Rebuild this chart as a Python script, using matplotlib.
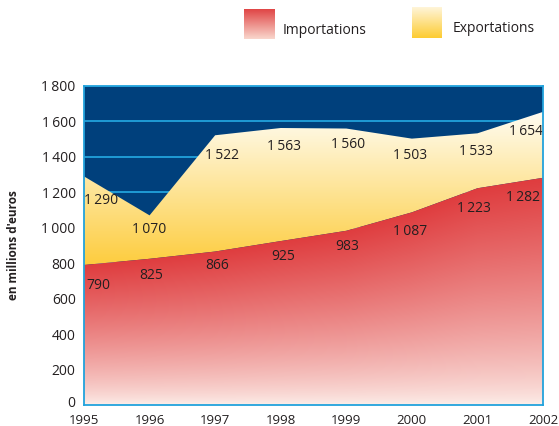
import numpy as np
import matplotlib
matplotlib.use("Agg")
import matplotlib.pyplot as plt
import matplotlib.transforms as mtransforms
from matplotlib.patches import Polygon

plt.rcParams['font.family'] = ['Open Sans', 'DejaVu Sans']

years = [1995, 1996, 1997, 1998, 1999, 2000, 2001, 2002]
imports = [790, 825, 866, 925, 983, 1087, 1223, 1282]
exports = [1290, 1070, 1522, 1563, 1560, 1503, 1533, 1654]
yticks = [0, 200, 400, 600, 800, 1000, 1200, 1400, 1600, 1800]
series_names = ["Importations", "Exportations"]
ylabel = "en millions d'euros"

# label offsets (pixels) – styling only
exp_off = [(17, -24), (0, -14), (7, -20), (3, -18), (2, -16), (-2, -17), (-1, -18), (-17, -20)]
imp_off = [(14, -21), (2, -17), (2, -14), (2, -15), (1, -16), (-2, -19), (-3, -20), (-20, -20)]

TXT = '#231F20'
BLUE_BG = '#00407C'
LINE_BLUE = '#22A2DC'

def fmt(v):
    return f"{v:,}".replace(",", "\u2009")

W, H = 559, 426
fig = plt.figure(figsize=(W / 100, H / 100), dpi=100)
ax = fig.add_axes([84 / W, (H - 405) / H, (543 - 84) / W, (405 - 86) / H])
ax.set_facecolor(BLUE_BG)
ax.set_xlim(years[0], years[-1])
ax.set_ylim(yticks[0], yticks[-1])

ax.set_axisbelow(True)
ax.yaxis.grid(True, color=LINE_BLUE, linewidth=1.3)
ax.xaxis.grid(False)

# gradient images
nx, ny = 500, 720
xs = np.linspace(years[0], years[-1], nx)
ys = np.linspace(yticks[0], yticks[-1], ny)
X, Y = np.meshgrid(xs, ys)

# exports: absolute vertical gradient
c_low = np.array([253, 204, 60]) / 255
c_high = np.array([255, 253, 244]) / 255
fe = np.clip((Y - 780) / (1660 - 780), 0, 1)[..., None]
img_e = c_low * (1 - fe) + c_high * fe
im_e = ax.imshow(img_e, extent=[years[0], years[-1], yticks[0], yticks[-1]],
                 origin='lower', aspect='auto', zorder=1, interpolation='bilinear')
poly_e = Polygon(np.column_stack([years + years[::-1], exports + imports[::-1]]),
                 closed=True, facecolor='none', edgecolor='none', transform=ax.transData)
ax.add_patch(poly_e)
im_e.set_clip_path(poly_e)

# imports: relative gradient
top = np.interp(xs, years, imports)[None, :]
fi = np.clip(Y / top, 0, 1) ** 0.75
fi = fi[..., None]
r_top = np.array([223, 60, 62]) / 255
r_bot = np.array([253, 240, 235]) / 255
img_i = r_bot * (1 - fi) + r_top * fi
im_i = ax.imshow(img_i, extent=[years[0], years[-1], yticks[0], yticks[-1]],
                 origin='lower', aspect='auto', zorder=2, interpolation='bilinear')
poly_i = Polygon(np.column_stack([years + years[::-1], imports + [0] * len(years)]),
                 closed=True, facecolor='none', edgecolor='none', transform=ax.transData)
ax.add_patch(poly_i)
im_i.set_clip_path(poly_i)

# labels
for x, v, (dx, dy) in zip(years, exports, exp_off):
    ax.annotate(fmt(v), (x, v), xytext=(dx, dy), textcoords='offset pixels',
                ha='center', va='center', fontsize=10, color=TXT, zorder=5)
for x, v, (dx, dy) in zip(years, imports, imp_off):
    ax.annotate(fmt(v), (x, v), xytext=(dx, dy), textcoords='offset pixels',
                ha='center', va='center', fontsize=10, color=TXT, zorder=5)

ax.set_yticks(yticks)
ax.set_yticklabels([fmt(v) for v in yticks])
ax.set_xticks(years)
ax.set_xticklabels([str(y) for y in years])
ax.tick_params(axis='both', length=0, labelcolor=TXT)
ax.tick_params(axis='y', pad=6, labelsize=10)
ax.tick_params(axis='x', pad=6.5, labelsize=9.5)
for s in ax.spines.values():
    s.set_color(LINE_BLUE)
    s.set_linewidth(1.3)
    s.set_zorder(6)

# nudge the "0" label up slightly so it clears the first year label
zero_lab = ax.yaxis.get_major_ticks()[0].label1
zero_lab.set_transform(zero_lab.get_transform() +
                       mtransforms.ScaledTranslation(0, 2.5 / 72, fig.dpi_scale_trans))

fig.text(14 / W, 1 - 245 / H, ylabel, rotation=90, ha='center', va='center',
         fontsize=8.5, fontweight='bold', color=TXT)

# legend
def grad_square(x0, y0, x1, y1, ctop, cbot):
    lax = fig.add_axes([x0 / W, 1 - y1 / H, (x1 - x0) / W, (y1 - y0) / H])
    t = np.linspace(0, 1, 64)[:, None, None]
    img = np.array(ctop) / 255 * (1 - t) + np.array(cbot) / 255 * t
    img = np.repeat(img, 2, axis=1)
    lax.imshow(img, aspect='auto', interpolation='bilinear')
    lax.axis('off')

grad_square(244, 9, 274, 39, (224, 70, 70), (249, 214, 204))
grad_square(412, 7, 442, 38, (255, 246, 222), (253, 204, 50))
fig.text(283 / W, 1 - 30 / H, series_names[0], ha='left', va='center', fontsize=10, color=TXT)
fig.text(453 / W, 1 - 29 / H, series_names[1], ha='left', va='center', fontsize=10, color=TXT)

fig.savefig("out.png", dpi=100)
